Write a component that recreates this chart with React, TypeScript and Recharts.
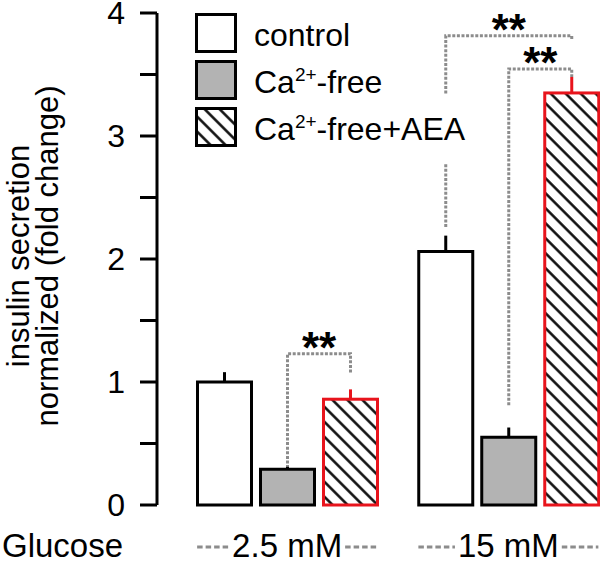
import React from "react"
import { Bar, BarChart, ErrorBar, Legend, XAxis, YAxis } from "recharts"

const groups = ["2.5 mM", "15 mM"]
const control = [1.0, 2.06]
const controlErr = [0.08, 0.13]
const caFree = [0.29, 0.55]
const caFreeErr = [0.02, 0.08]
const aea = [0.86, 3.35]
const aeaErr = [0.08, 0.13]
const yTicks = [0, 0.5, 1, 1.5, 2, 2.5, 3, 3.5, 4]

// significance brackets, series index: 0 control, 1 Ca-free, 2 Ca-free+AEA
const brackets = [
  { group: 0, from: 1, to: 2, top: 1.23, fromEnd: 0.3, toEnd: 1.07, mark: "**" },
  { group: 1, from: 1, to: 2, top: 3.545, fromEnd: 0.81, toEnd: 3.48, mark: "**" },
  { group: 1, from: 0, to: 2, top: 3.815, fromEnd: 2.26, toEnd: 3.78, mark: "**" },
]

const data = groups.map((group, i) => ({
  group,
  control: control[i],
  controlErr: controlErr[i],
  caFree: caFree[i],
  caFreeErr: caFreeErr[i],
  aea: aea[i],
  aeaErr: aeaErr[i],
}))

const FONT = "'Liberation Sans', Arial, sans-serif"
const BAR_SIZE = 54
const BAR_GAP = 9
const RED = "#e8141c"
const DOT = "#8c8c8c"

let canvas: HTMLCanvasElement | null = null
const textWidth = (s: string, size: number) => {
  if (!canvas) canvas = document.createElement("canvas")
  const ctx = canvas.getContext("2d")
  if (!ctx) return s.length * size * 0.55
  ctx.font = `${size}px ${FONT}`
  return ctx.measureText(s).width
}

const Hatch = ({ id }: { id: string }) => (
  <defs>
    <pattern id={id} width={10.6} height={10.6} patternUnits="userSpaceOnUse" patternTransform="rotate(-45)">
      <rect width={10.6} height={10.6} fill="#fff" />
      <line x1={5.3} y1={0} x2={5.3} y2={10.6} stroke="#000" strokeWidth={2.4} />
    </pattern>
  </defs>
)

const AeaShape = (props: any) => {
  const { x, y, width, height, index } = props
  const perUnit = height / aea[index]
  const base = y + height
  const yOf = (v: number) => base - v * perUnit
  const cx = (s: number) => x + width / 2 - (2 - s) * (width + BAR_GAP)
  return (
    <g>
      <rect x={x} y={y} width={width} height={height} fill="url(#hatch)" stroke={RED} strokeWidth={3} />
      {brackets
        .filter((b) => b.group === index)
        .map((b, k) => {
          const x1 = cx(b.from)
          const x2 = cx(b.to)
          const yt = yOf(b.top)
          return (
            <g key={k}>
              <polyline
                points={`${x1},${yOf(b.fromEnd)} ${x1},${yt} ${x2},${yt} ${x2},${yOf(b.toEnd)}`}
                fill="none"
                stroke={DOT}
                strokeWidth={3}
                strokeDasharray="3 1.6"
              />
              <text x={(x1 + x2) / 2} y={yt + 9} textAnchor="middle" fontFamily={FONT} fontWeight="bold" fontSize={44}>
                {b.mark}
              </text>
            </g>
          )
        })}
    </g>
  )
}

const GroupTick = (props: any) => {
  const { x, y, payload } = props
  const half = (3 * BAR_SIZE + 2 * BAR_GAP) / 2
  const w = textWidth(payload.value, 33)
  const ly = y + 42
  return (
    <g>
      <line x1={x - half} x2={x - w / 2 - 3} y1={ly} y2={ly} stroke={DOT} strokeWidth={3} strokeDasharray="5.5 3" />
      <text x={x} y={y + 52} textAnchor="middle" fontFamily={FONT} fontSize={33} fill="#000">
        {payload.value}
      </text>
      <line x1={x + w / 2 + 3} x2={x + half} y1={ly} y2={ly} stroke={DOT} strokeWidth={3} strokeDasharray="5.5 3" />
    </g>
  )
}

const Swatch = ({ kind }: { kind: string }) => (
  <svg width={42} height={40}>
    {kind === "aea" && <Hatch id="hatchLegend" />}
    <rect
      x={1.5}
      y={1.5}
      width={39}
      height={37}
      fill={kind === "control" ? "#fff" : kind === "caFree" ? "#b3b3b3" : "url(#hatchLegend)"}
      stroke="#000"
      strokeWidth={3}
    />
  </svg>
)

const LegendBox = () => {
  const rows = [
    { kind: "control", label: <>control</> },
    { kind: "caFree", label: <>Ca<sup style={{ fontSize: 19 }}>2+</sup>-free</> },
    { kind: "aea", label: <>Ca<sup style={{ fontSize: 19 }}>2+</sup>-free+AEA</> },
  ]
  return (
    <div style={{ fontFamily: FONT, fontSize: 32, color: "#000" }}>
      {rows.map((r) => (
        <div key={r.kind} style={{ display: "flex", alignItems: "center", height: 47 }}>
          <Swatch kind={r.kind} />
          <span
            style={{
              marginLeft: 17,
              position: "relative",
              top: 3,
              background: "#fff",
              padding: r.kind === "aea" ? "16px 0" : 0,
              lineHeight: "normal",
            }}
          >
            {r.label}
          </span>
        </div>
      ))}
    </div>
  )
}

const YLabel = (props: any) => {
  const { viewBox } = props
  const cy = viewBox.y + viewBox.height / 2 - 3
  return (
    <text transform={`translate(29, ${cy}) rotate(-90)`} textAnchor="middle" fontFamily={FONT} fontSize={31} fill="#000">
      <tspan x={0} y={0}>insulin secretion</tspan>
      <tspan x={0} y={29}>normalized (fold change)</tspan>
    </text>
  )
}

const GlucoseLabel = (props: any) => {
  const { viewBox } = props
  return (
    <text x={viewBox.x - 155} y={viewBox.y + 52} fontFamily={FONT} fontSize={33} fill="#000">
      Glucose
    </text>
  )
}

export default function App() {
  return (
    <div style={{ position: "absolute", left: 0, top: 0, width: 600, height: 564, overflow: "hidden", background: "#fff" }}>
      <BarChart
        width={619}
        height={564}
        data={data}
        margin={{ top: 13, right: 0, bottom: 0, left: 0 }}
        barSize={BAR_SIZE}
        barGap={BAR_GAP}
      >
        <Hatch id="hatch" />
        <XAxis
          dataKey="group"
          height={59}
          axisLine={false}
          tickLine={false}
          tickSize={0}
          tickMargin={0}
          padding={{ left: 19.5, right: 0 }}
          tick={<GroupTick />}
          label={<GlucoseLabel />}
        />
        <YAxis
          width={157}
          domain={[0, 4]}
          ticks={yTicks}
          interval={0}
          tickFormatter={(v: number) => (Number.isInteger(v) ? String(v) : "")}
          tickSize={17}
          tickMargin={15}
          axisLine={{ stroke: "#000", strokeWidth: 3 }}
          tickLine={{ stroke: "#000", strokeWidth: 3 }}
          tick={{ fill: "#000", fontSize: 32, fontFamily: FONT }}
          label={<YLabel />}
        />
        <Legend
          layout="vertical"
          align="center"
          verticalAlign="middle"
          content={<LegendBox />}
          wrapperStyle={{ top: 9, left: 195, width: 300 }}
        />
        <Bar dataKey="control" fill="#fff" stroke="#000" strokeWidth={3} isAnimationActive={false}>
          <ErrorBar dataKey={(d: any) => [0, d.controlErr]} width={0} stroke="#000" strokeWidth={3} />
        </Bar>
        <Bar dataKey="caFree" fill="#b3b3b3" stroke="#000" strokeWidth={3} isAnimationActive={false}>
          <ErrorBar dataKey={(d: any) => [0, d.caFreeErr]} width={0} stroke="#000" strokeWidth={3} />
        </Bar>
        <Bar dataKey="aea" shape={<AeaShape />} isAnimationActive={false}>
          <ErrorBar dataKey={(d: any) => [0, d.aeaErr]} width={0} stroke={RED} strokeWidth={3} />
        </Bar>
      </BarChart>
    </div>
  )
}
